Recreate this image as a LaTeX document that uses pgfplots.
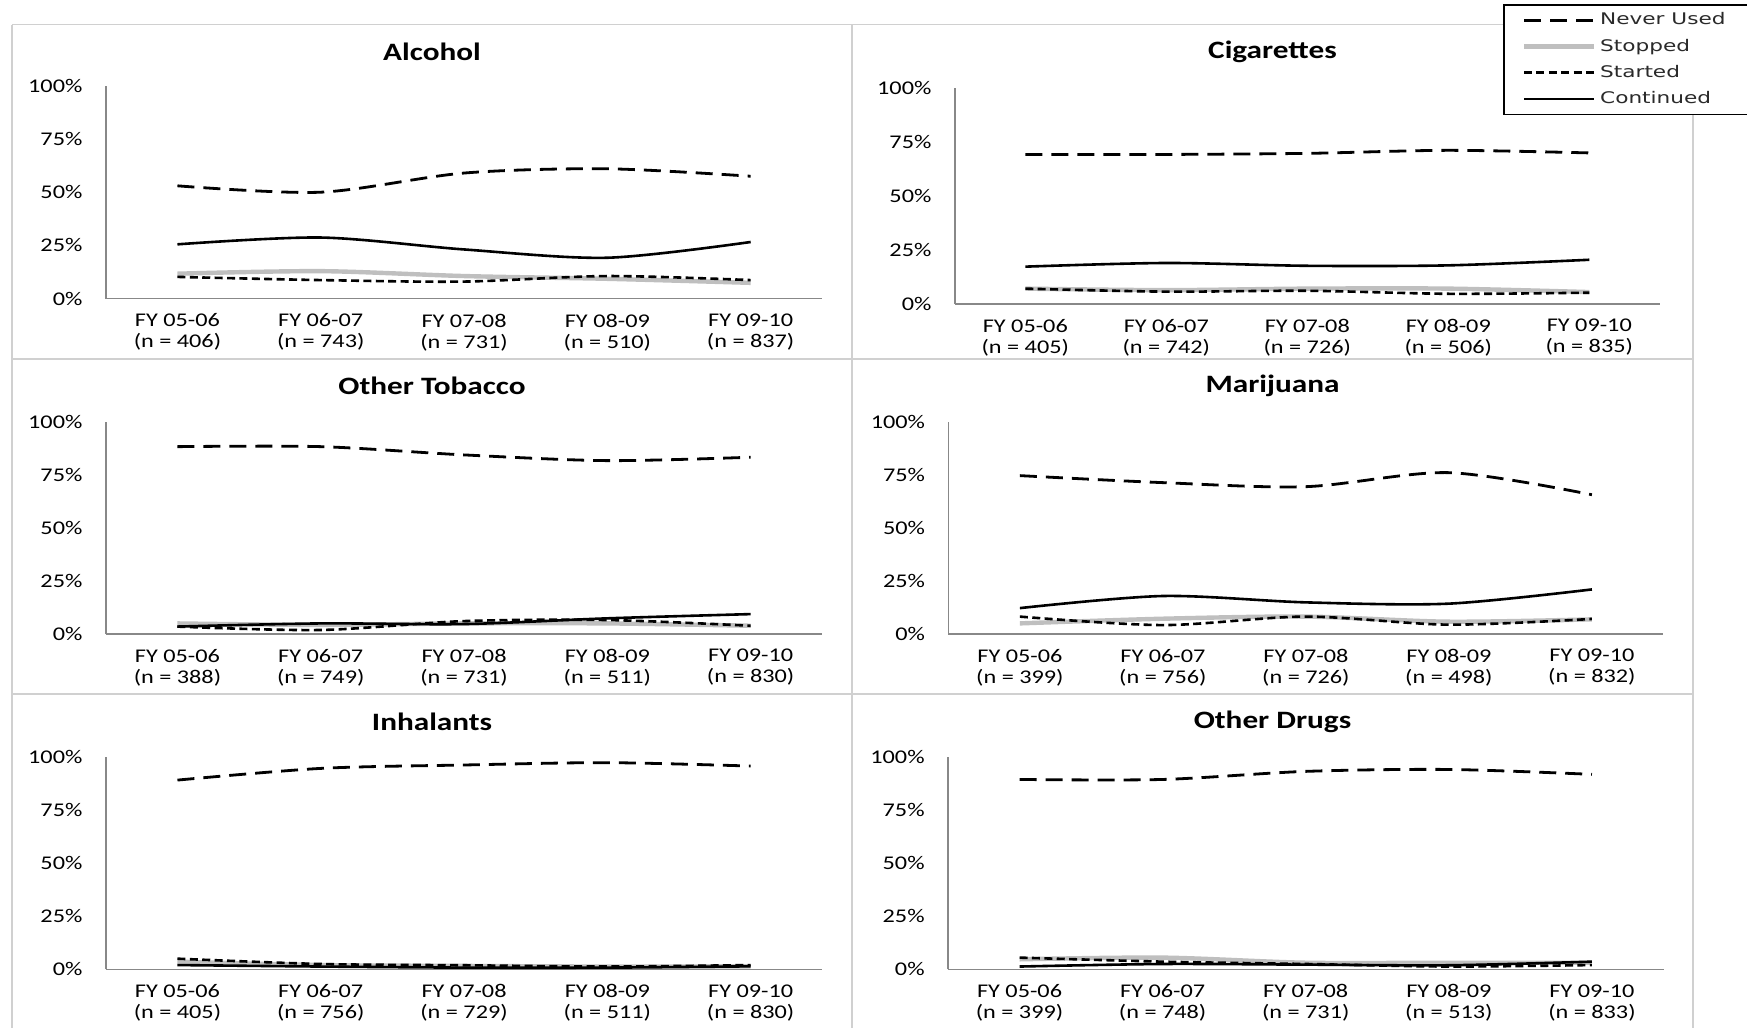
\documentclass[border=0pt]{standalone}
\usepackage{fontspec}
\setmainfont{Carlito}[FakeStretch=1.25]
\newfontfamily\legfont{DejaVu Sans}[FakeStretch=1.35]
\usepackage{pgfplots}
\pgfplotsset{compat=1.18}
\definecolor{stopgray}{HTML}{BFBFBF}
\definecolor{axgray}{HTML}{888888}
\definecolor{bordergray}{HTML}{D0D0D0}
\definecolor{legtext}{HTML}{2A2A2A}
\pgfplotsset{
  never/.style={black, line width=1.4pt, dash pattern=on 8.5pt off 4.5pt, smooth, tension=0.5},
  stopped/.style={stopgray, line width=2.2pt, smooth, tension=0.5},
  started/.style={black, line width=1.3pt, dash pattern=on 4pt off 2.2pt, smooth, tension=0.5},
  cont/.style={black, line width=1.3pt, smooth, tension=0.5},
  panel/.style={
    scale only axis,
    xmin=-0.5, xmax=4.5, ymin=0, ymax=100,
    axis x line*=bottom, axis y line*=left,
    axis line style={draw=axgray, line width=0.8pt, -},
    major tick length=0pt,
    xtick={0,1,2,3,4},
    ytick={0,25,50,75,100},
    yticklabels={0\%,25\%,50\%,75\%,100\%},
    tick label style={font=\fontsize{9.7}{10.5}\selectfont},
    xticklabel style={align=center, anchor=north, inner sep=0pt, yshift=-7.4pt},
    yticklabel style={anchor=east, inner sep=0pt, xshift=-11.5pt},
    every axis plot/.append style={no marks},
    clip=false,
  },
}
\begin{document}
\begin{tikzpicture}
\useasboundingbox (0,0) rectangle (873.5pt,-514pt);
% panel borders
\begin{scope}[bordergray, line width=0.8pt]
\draw (6pt,-12.25pt) -- (846.5pt,-12.25pt);
\draw (6pt,-179.5pt) -- (846.5pt,-179.5pt);
\draw (6pt,-347pt) -- (846.5pt,-347pt);
\draw (6pt,-12.25pt) -- (6pt,-520pt);
\draw (426pt,-12.25pt) -- (426pt,-520pt);
\draw (846.5pt,-12.25pt) -- (846.5pt,-520pt);
\end{scope}
% titles
\begin{scope}[font=\bfseries\fontsize{12.5}{13}\selectfont]
\node at (216pt,-25.9pt) {Alcohol};
\node at (636.25pt,-25.9pt) {Cigarettes};
\node at (216pt,-193pt) {Other Tobacco};
\node at (636.25pt,-193pt) {Marijuana};
\node at (216pt,-360.7pt) {Inhalants};
\node at (636.25pt,-360.7pt) {Other Drugs};
\end{scope}

% Alcohol
\begin{axis}[panel, at={(52.9pt,-149.3pt)}, anchor=south west, width=358.25pt, height=106.4pt,
  xticklabels={{FY 05-06\\(n = 406)},{FY 06-07\\(n = 743)},{FY 07-08\\(n = 731)},{FY 08-09\\(n = 510)},{FY 09-10\\(n = 837)}}]
\addplot[never] coordinates {(0,53) (1,50) (2,59) (3,61) (4,57.5)};
\addplot[stopped] coordinates {(0,11.7) (1,12.9) (2,10.6) (3,9.3) (4,7.4)};
\addplot[started] coordinates {(0,10.2) (1,8.7) (2,8.0) (3,10.6) (4,8.7)};
\addplot[cont] coordinates {(0,25.5) (1,28.7) (2,23.1) (3,19.2) (4,26.6)};
\end{axis}

% Cigarettes
\begin{axis}[panel, at={(477.4pt,-151.85pt)}, anchor=south west, width=352.5pt, height=107.7pt,
  xticklabels={{FY 05-06\\(n = 405)},{FY 06-07\\(n = 742)},{FY 07-08\\(n = 726)},{FY 08-09\\(n = 506)},{FY 09-10\\(n = 835)}},
  legend image code/.code={\draw[#1] (0pt,0pt) -- (35pt,0pt);},
  legend cell align=left,
  legend style={at={(0.7776,1.3914)}, anchor=north west, draw=black, line width=0.8pt, fill=white,
    font=\legfont\fontsize{8}{9}\selectfont, text=legtext, inner xsep=9pt, inner ysep=2pt, row sep=1.5pt,
    nodes={inner sep=2pt}}]
\addplot[never] coordinates {(0,69.3) (1,69.3) (2,69.8) (3,71.2) (4,70.0)};
\addplot[stopped] coordinates {(0,7.0) (1,6.3) (2,7.0) (3,7.0) (4,5.4)};
\addplot[started] coordinates {(0,7.0) (1,5.6) (2,6.0) (3,4.6) (4,5.1)};
\addplot[cont] coordinates {(0,17.2) (1,18.9) (2,17.6) (3,17.8) (4,20.4)};
\legend{Never Used\hspace*{30pt}, Stopped, Started, Continued}
\end{axis}

% Other Tobacco
\begin{axis}[panel, at={(52.9pt,-317pt)}, anchor=south west, width=358.25pt, height=105.85pt,
  xticklabels={{FY 05-06\\(n = 388)},{FY 06-07\\(n = 749)},{FY 07-08\\(n = 731)},{FY 08-09\\(n = 511)},{FY 09-10\\(n = 830)}}]
\addplot[never] coordinates {(0,88.5) (1,88.5) (2,84.6) (3,81.9) (4,83.5)};
\addplot[stopped] coordinates {(0,5.0) (1,4.3) (2,5.0) (3,5.0) (4,3.9)};
\addplot[started] coordinates {(0,3.5) (1,1.9) (2,6.1) (3,6.6) (4,3.9)};
\addplot[cont] coordinates {(0,3.5) (1,5.0) (2,4.7) (3,7.4) (4,9.4)};
\end{axis}

% Marijuana
\begin{axis}[panel, at={(474.2pt,-317pt)}, anchor=south west, width=357.5pt, height=106.15pt,
  xticklabels={{FY 05-06\\(n = 399)},{FY 06-07\\(n = 756)},{FY 07-08\\(n = 726)},{FY 08-09\\(n = 498)},{FY 09-10\\(n = 832)}}]
\addplot[never] coordinates {(0,74.6) (1,71.3) (2,69.4) (3,76.0) (4,65.6)};
\addplot[stopped] coordinates {(0,5.0) (1,7.2) (2,8.2) (3,5.8) (4,6.9)};
\addplot[started] coordinates {(0,8.2) (1,4.2) (2,8.2) (3,4.4) (4,7.1)};
\addplot[cont] coordinates {(0,12.2) (1,17.9) (2,14.9) (3,14.3) (4,21.0)};
\end{axis}

% Inhalants
\begin{axis}[panel, at={(52.9pt,-484.65pt)}, anchor=south west, width=358.25pt, height=106.3pt,
  xticklabels={{FY 05-06\\(n = 405)},{FY 06-07\\(n = 756)},{FY 07-08\\(n = 729)},{FY 08-09\\(n = 511)},{FY 09-10\\(n = 830)}}]
\addplot[never] coordinates {(0,89.0) (1,94.5) (2,96.1) (3,97.2) (4,95.6)};
\addplot[stopped] coordinates {(0,3.6) (1,2.0) (2,1.6) (3,1.3) (4,1.4)};
\addplot[started] coordinates {(0,5.0) (1,2.5) (2,1.9) (3,1.3) (4,2.0)};
\addplot[cont] coordinates {(0,2.0) (1,1.3) (2,0.8) (3,0.8) (4,1.4)};
\end{axis}

% Other Drugs
\begin{axis}[panel, at={(474pt,-484.65pt)}, anchor=south west, width=357.75pt, height=106.3pt,
  xticklabels={{FY 05-06\\(n = 399)},{FY 06-07\\(n = 748)},{FY 07-08\\(n = 731)},{FY 08-09\\(n = 513)},{FY 09-10\\(n = 833)}}]
\addplot[never] coordinates {(0,89.3) (1,89.3) (2,93.1) (3,94.0) (4,91.7)};
\addplot[stopped] coordinates {(0,4.7) (1,5.5) (2,3.1) (3,3.1) (4,3.1)};
\addplot[started] coordinates {(0,5.5) (1,3.6) (2,2.5) (3,1.3) (4,2.0)};
\addplot[cont] coordinates {(0,1.3) (1,2.5) (2,2.2) (3,1.9) (4,3.6)};
\end{axis}
\end{tikzpicture}
\end{document}
